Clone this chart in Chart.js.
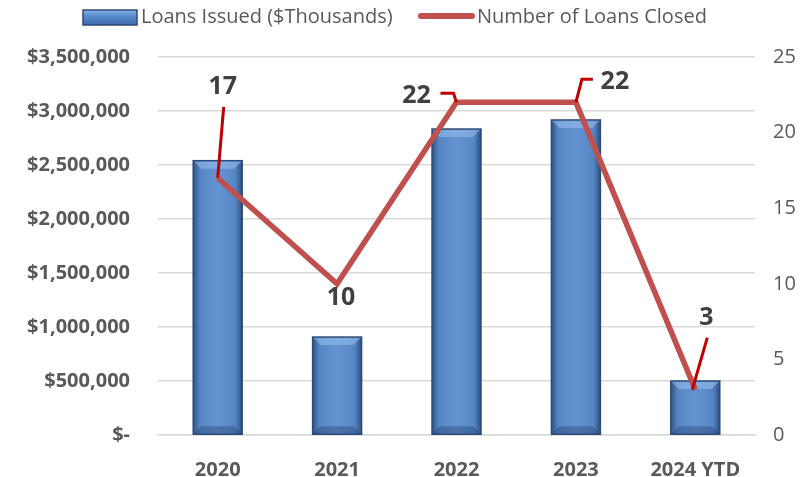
<!DOCTYPE html>
<html>
<head>
<meta charset="utf-8">
<script src="https://cdn.jsdelivr.net/npm/chart.js@4.4.1/dist/chart.umd.min.js"></script>
<style>
  html, body { margin: 0; padding: 0; background: #fff; }
  #wrap { width: 810px; height: 477px; position: relative; }
</style>
</head>
<body>
<div id="wrap"><canvas id="c" width="810" height="477"></canvas></div>
<script>
const years = ['2020', '2021', '2022', '2023', '2024 YTD'];
const loansIssued = [2540000, 907000, 2833000, 2917000, 500000];
const loansClosed = [17, 10, 22, 22, 3];
const leftMax = 3500000, leftStep = 500000;
const rightMax = 25, rightStep = 5;

// where each number label sits relative to its point, plus its leader path
const labelPlace = [
  { dx: 5,   dy: -91, leader: [[6, -71], [0, 0]] },
  { dx: 4,   dy: 14,  leader: null },
  { dx: -40, dy: -6,  leader: [[-16, -9], [-3, -9], [0, 0]] },
  { dx: 39,  dy: -20, leader: [[17, -23], [6, -23], [0, 0]] },
  { dx: 11,  dy: -72, leader: [[12, -52], [-3, 0]] }
];

const FONT = '"Open Sans", "Noto Sans", sans-serif';
const grey = '#595959';

const money = v => v === 0 ? '$-' : '$' + v.toLocaleString('en-US');

const bevelBars = {
  id: 'bevelBars',
  afterDatasetDraw(chart, args) {
    if (args.index !== 0) return;
    const ctx = chart.ctx;
    chart.getDatasetMeta(0).data.forEach(bar => {
      const p = bar.getProps(['x', 'y', 'width', 'base'], true);
      const l = p.x - p.width / 2, r = p.x + p.width / 2, t = p.y, b = p.base;
      const bv = 8;
      ctx.save();
      const g = ctx.createLinearGradient(l, 0, r, 0);
      g.addColorStop(0, 'rgba(25,45,85,0.6)');
      g.addColorStop(0.14, 'rgba(25,45,85,0.08)');
      g.addColorStop(0.5, 'rgba(255,255,255,0.05)');
      g.addColorStop(0.86, 'rgba(25,45,85,0.08)');
      g.addColorStop(1, 'rgba(25,45,85,0.65)');
      ctx.fillStyle = g;
      ctx.fillRect(l, t, r - l, b - t);
      // top bevel
      ctx.beginPath();
      ctx.moveTo(l, t); ctx.lineTo(r, t); ctx.lineTo(r - bv, t + bv); ctx.lineTo(l + bv, t + bv); ctx.closePath();
      ctx.fillStyle = 'rgba(160,198,242,0.5)';
      ctx.fill();
      // bottom bevel
      ctx.beginPath();
      ctx.moveTo(l, b); ctx.lineTo(r, b); ctx.lineTo(r - bv, b - bv); ctx.lineTo(l + bv, b - bv); ctx.closePath();
      ctx.fillStyle = 'rgba(30,55,100,0.35)';
      ctx.fill();
      ctx.strokeStyle = '#2b4a78';
      ctx.lineWidth = 1.5;
      ctx.strokeRect(l, t, r - l, b - t);
      ctx.restore();
    });
  }
};

const lineLabels = {
  id: 'lineLabels',
  afterDatasetsDraw(chart) {
    const ctx = chart.ctx;
    const pts = chart.getDatasetMeta(1).data;
    ctx.save();
    pts.forEach((pt, i) => {
      const pl = labelPlace[i];
      if (pl.leader) {
        ctx.beginPath();
        pl.leader.forEach(([dx, dy], k) => {
          if (k === 0) ctx.moveTo(pt.x + dx, pt.y + dy);
          else ctx.lineTo(pt.x + dx, pt.y + dy);
        });
        ctx.strokeStyle = '#c00000';
        ctx.lineWidth = 3;
        ctx.stroke();
      }
      ctx.font = 'bold 25px ' + FONT;
      ctx.fillStyle = '#404040';
      ctx.textAlign = 'center';
      ctx.textBaseline = 'middle';
      ctx.fillText(String(loansClosed[i]), pt.x + pl.dx, pt.y + pl.dy);
    });
    ctx.restore();
  }
};

const topLegend = {
  id: 'topLegend',
  afterDraw(chart) {
    const ctx = chart.ctx;
    ctx.save();
    // bar swatch
    const x0 = 83, y0 = 10, w = 54, h = 15;
    const g = ctx.createLinearGradient(0, y0, 0, y0 + h);
    g.addColorStop(0, '#8fb6e6');
    g.addColorStop(0.35, '#5b8fd0');
    g.addColorStop(1, '#3d6aa6');
    ctx.fillStyle = g;
    ctx.fillRect(x0, y0, w, h);
    ctx.strokeStyle = '#2b4a78';
    ctx.lineWidth = 1.5;
    ctx.strokeRect(x0, y0, w, h);
    ctx.font = '20px ' + FONT;
    ctx.fillStyle = grey;
    ctx.textBaseline = 'middle';
    ctx.fillText('Loans Issued ($Thousands)', 141, 17);
    // line swatch
    ctx.beginPath();
    ctx.moveTo(421, 16); ctx.lineTo(472, 16);
    ctx.strokeStyle = '#c0504d';
    ctx.lineWidth = 6;
    ctx.lineCap = 'round';
    ctx.stroke();
    ctx.fillText('Number of Loans Closed', 477, 17);
    ctx.restore();
  }
};

new Chart(document.getElementById('c'), {
  data: {
    labels: years,
    datasets: [
      {
        type: 'bar', label: 'Loans Issued ($Thousands)',
        data: loansIssued, yAxisID: 'yL', order: 1,
        backgroundColor: '#5a8dcd', borderWidth: 0,
        categoryPercentage: 1, barPercentage: 0.41
      },
      {
        type: 'line', label: 'Number of Loans Closed',
        data: loansClosed, yAxisID: 'yR', order: 0,
        borderColor: '#c0504d', borderWidth: 5.5,
        pointRadius: 0, tension: 0, borderJoinStyle: 'miter'
      }
    ]
  },
  options: {
    responsive: false, animation: false,
    layout: { padding: { top: 57, left: 0, right: 0, bottom: 0 } },
    plugins: { legend: { display: false }, tooltip: { enabled: false } },
    scales: {
      x: {
        grid: { display: false },
        border: { color: '#d9d9d9', width: 1.5 },
        ticks: { color: grey, font: { family: FONT, size: 20, weight: 'bold' }, padding: 15, maxRotation: 0 },
        afterFit: s => { s.height = 42; }
      },
      yL: {
        position: 'left', min: 0, max: leftMax,
        border: { display: false },
        grid: { color: '#d9d9d9', lineWidth: 1.5, drawTicks: false },
        ticks: { stepSize: leftStep, color: grey, padding: 28, font: { family: FONT, size: 20, weight: 'bold' }, callback: v => money(v) },
        afterFit: s => { s.width = 158; }
      },
      yR: {
        position: 'right', min: 0, max: rightMax,
        border: { display: false },
        grid: { display: false, drawTicks: false },
        ticks: { stepSize: rightStep, color: grey, padding: 18, font: { family: FONT, size: 20 } },
        afterFit: s => { s.width = 55; }
      }
    }
  },
  plugins: [bevelBars, lineLabels, topLegend]
});
</script>
</body>
</html>
